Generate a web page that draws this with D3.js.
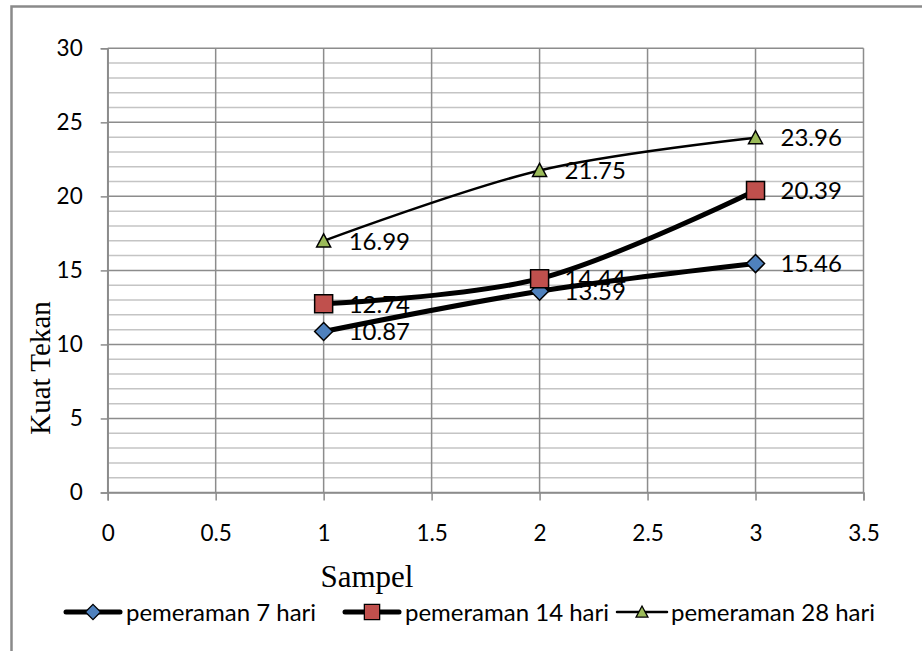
<!DOCTYPE html>
<html><head><meta charset="utf-8">
<script src="https://cdn.jsdelivr.net/npm/d3@7"></script>
<style>body{margin:0;background:#fff}svg{display:block}</style>
</head><body>
<script>
const sampel = [1, 2, 3];
const seriesNames = ["pemeraman 7 hari", "pemeraman 14 hari", "pemeraman 28 hari"];
const hari7 = [10.87, 13.59, 15.46];
const hari14 = [12.74, 14.44, 20.39];
const hari28 = [16.99, 21.75, 23.96];
const xTicks = [0, 0.5, 1, 1.5, 2, 2.5, 3, 3.5];
const yTicks = [0, 5, 10, 15, 20, 25, 30];

const W = 922, H = 651;
const svg = d3.select("body").append("svg").attr("width", W).attr("height", H);
svg.append("rect").attr("width", W).attr("height", H).attr("fill", "#fff");
svg.append("rect").attr("x", 11.5).attr("y", 6.5).attr("width", 940).attr("height", 700)
  .attr("fill", "none").attr("stroke", "#8a8a8a").attr("stroke-width", 2.5);

const x = d3.scaleLinear().domain([0, 3.5]).range([107.7, 863.5]);
const y = d3.scaleLinear().domain([0, 30]).range([492.5, 48.3]);

const g = svg.append("g");
g.selectAll("line.minor").data(d3.range(0, 31).filter(v => v % 5 !== 0)).enter().append("line")
  .attr("x1", x(0)).attr("x2", x(3.5)).attr("y1", d => y(d)).attr("y2", d => y(d))
  .attr("stroke", "#c4c4c4").attr("stroke-width", 1.5);
g.selectAll("line.major").data(yTicks).enter().append("line")
  .attr("x1", x(0)).attr("x2", x(3.5)).attr("y1", d => y(d)).attr("y2", d => y(d))
  .attr("stroke", "#8c8c8c").attr("stroke-width", 1.5);
g.selectAll("line.v").data(xTicks).enter().append("line")
  .attr("x1", d => x(d)).attr("x2", d => x(d)).attr("y1", y(30)).attr("y2", y(0))
  .attr("stroke", "#8c8c8c").attr("stroke-width", 1.5);

const font = "Lato, 'Open Sans', sans-serif";
const yAxis = svg.append("g").attr("transform", `translate(${x(0)},0)`)
  .call(d3.axisLeft(y).tickValues(yTicks).tickSize(7).tickPadding(18).tickFormat(d3.format("d")));
yAxis.select(".domain").attr("stroke", "#8c8c8c").attr("stroke-width", 1.5);
yAxis.selectAll(".tick line").attr("stroke", "#8c8c8c").attr("stroke-width", 1.5);
yAxis.selectAll(".tick text").attr("font-family", font).attr("font-size", 22.5).attr("fill", "#000");
const xAxis = svg.append("g").attr("transform", `translate(0,${y(0)})`)
  .call(d3.axisBottom(x).tickValues(xTicks).tickSize(8).tickPadding(25).tickFormat(d => String(d)));
xAxis.select(".domain").attr("stroke", "#8c8c8c").attr("stroke-width", 1.5);
xAxis.selectAll(".tick line").attr("stroke", "#8c8c8c").attr("stroke-width", 1.5);
xAxis.selectAll(".tick text").attr("font-family", font).attr("font-size", 22.5).attr("fill", "#000");

svg.append("text").attr("transform", `translate(50,368) rotate(-90)`).attr("text-anchor", "middle")
  .attr("font-family", "'Liberation Serif', 'Times New Roman', serif").attr("font-size", 29).text("Kuat Tekan");
svg.append("text").attr("x", 367).attr("y", 587).attr("text-anchor", "middle")
  .attr("font-family", "'Liberation Serif', 'Times New Roman', serif").attr("font-size", 31).text("Sampel");

const series = [
  {name: seriesNames[0], vals: hari7, width: 5, marker: "diamond", color: "#4F81BD"},
  {name: seriesNames[1], vals: hari14, width: 5, marker: "square", color: "#C0504D"},
  {name: seriesNames[2], vals: hari28, width: 2.5, marker: "triangle", color: "#9BBB59"}
];
function markerPath(type) {
  if (type === "diamond") return "M0,-9L9,0L0,9L-9,0Z";
  if (type === "square") return "M-9,-9H9V9H-9Z";
  return "M0,-7L7,6H-7Z";
}
const line = d3.line().x((d, i) => x(sampel[i])).y(d => y(d)).curve(d3.curveCatmullRom.alpha(0.5));
series.forEach(s => {
  svg.append("path").attr("d", line(s.vals)).attr("fill", "none").attr("stroke", "#000")
    .attr("stroke-width", s.width).attr("stroke-linecap", "round").attr("stroke-linejoin", "round");
});
series.forEach(s => {
  s.vals.forEach((v, i) => {
    svg.append("path").attr("d", markerPath(s.marker))
      .attr("transform", `translate(${x(sampel[i])},${y(v)})`)
      .attr("fill", s.color).attr("stroke", "#000").attr("stroke-width", 1.5);
  });
});
series.forEach(s => {
  s.vals.forEach((v, i) => {
    svg.append("text").attr("x", x(sampel[i]) + 25).attr("y", y(v)).attr("dy", "0.36em")
      .attr("font-family", font).attr("font-size", 24).attr("fill", "#000").text(v.toFixed(2));
  });
});

const legX = [66, 345, 617];
const legTextX = [60, 60, 54];
series.forEach((s, i) => {
  const lg = svg.append("g").attr("transform", `translate(${legX[i]},612)`);
  const len = i === 2 ? 50 : 54;
  lg.append("line").attr("x1", 0).attr("x2", len).attr("y1", 0).attr("y2", 0)
    .attr("stroke", "#000").attr("stroke-width", s.width).attr("stroke-linecap", "round");
  lg.append("path").attr("d", markerPath(s.marker)).attr("transform", `translate(${len / 2},0) scale(0.85)`)
    .attr("fill", s.color).attr("stroke", "#000").attr("stroke-width", 1.5);
  lg.append("text").attr("x", legTextX[i]).attr("y", 0).attr("dy", "0.36em")
    .attr("font-family", font).attr("font-size", 24).attr("fill", "#000").text(s.name);
});
</script>
</body></html>
